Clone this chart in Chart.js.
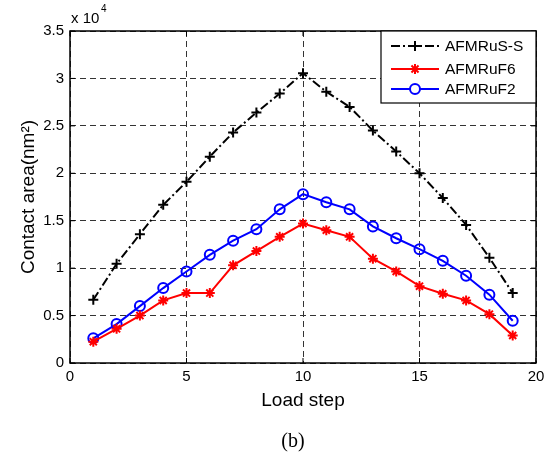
<!DOCTYPE html>
<html lang="en">
<head>
  <meta charset="UTF-8">
  <title>Contact area vs load step</title>
  <script src="https://cdn.jsdelivr.net/npm/chart.js"></script>
  <style>
    html, body { margin: 0; padding: 0; background: #fff; }
    #wrap { width: 551px; height: 456px; }
  </style>
</head>
<body>
  <div id="wrap"><canvas id="myChart" width="551" height="456"></canvas></div>
  <script>
// data (contact area in nm^2)
const loadSteps = [1, 2, 3, 4, 5, 6, 7, 8, 9, 10, 11, 12, 13, 14, 15, 16, 17, 18, 19];
const afmRuSS = [6660, 10450, 13580, 16670, 19100, 21750, 24300, 26400, 28400, 30550, 28600, 27000, 24500, 22300, 20000, 17400, 14560, 11100, 7370];
const afmRuF6 = [2250, 3600, 5000, 6600, 7370, 7370, 10300, 11800, 13300, 14700, 14000, 13300, 11000, 9650, 8100, 7300, 6600, 5150, 2900];
const afmRuF2 = [2600, 4100, 6000, 7900, 9650, 11400, 12900, 14100, 16200, 17800, 16950, 16200, 14400, 13150, 12000, 10770, 9200, 7200, 4450];
const seriesNames = ['AFMRuS-S', 'AFMRuF6', 'AFMRuF2'];
const xTicks = [0, 5, 10, 15, 20];

const FONT = '"Liberation Sans", Arial, Helvetica, sans-serif';

function pairs(ys) {
  return loadSteps.map((x, i) => ({ x: x, y: ys[i] }));
}

// box, exponent label, caption and an in-axes legend like matlab
const matlabBits = {
  id: 'matlabBits',
  afterDraw(chart) {
    const ctx = chart.ctx;
    const a = chart.chartArea;
    ctx.save();
    ctx.strokeStyle = '#000';
    ctx.lineWidth = 1.5;
    ctx.setLineDash([]);
    ctx.strokeRect(a.left, a.top, a.right - a.left, a.bottom - a.top);

    // small inward ticks
    ctx.lineWidth = 1;
    const xs = chart.scales.x, ys = chart.scales.y;
    xs.ticks.forEach(t => {
      const px = xs.getPixelForValue(t.value);
      ctx.beginPath();
      ctx.moveTo(px, a.bottom); ctx.lineTo(px, a.bottom - 5);
      ctx.moveTo(px, a.top); ctx.lineTo(px, a.top + 5);
      ctx.stroke();
    });
    ys.ticks.forEach(t => {
      const py = ys.getPixelForValue(t.value);
      ctx.beginPath();
      ctx.moveTo(a.left, py); ctx.lineTo(a.left + 5, py);
      ctx.moveTo(a.right, py); ctx.lineTo(a.right - 5, py);
      ctx.stroke();
    });

    // x 10^4
    ctx.fillStyle = '#000';
    ctx.font = '15px ' + FONT;
    ctx.textBaseline = 'alphabetic';
    ctx.textAlign = 'left';
    ctx.fillText('x 10', a.left + 1, a.top - 8);
    ctx.font = '10px ' + FONT;
    ctx.fillText('4', a.left + 31, a.top - 19);

    // caption
    ctx.font = '20px "Liberation Serif", "Times New Roman", serif';
    ctx.textAlign = 'center';
    ctx.fillText('(b)', 293, 447);

    // legend box
    const bw = 155, bh = 72;
    const bx = a.right - bw, by = a.top;
    ctx.fillStyle = '#fff';
    ctx.fillRect(bx, by, bw, bh);
    ctx.lineWidth = 1.2;
    ctx.strokeStyle = '#000';
    ctx.strokeRect(bx, by, bw, bh);
    const rows = [15, 38, 58];
    chart.data.datasets.forEach((ds, i) => {
      const yy = by + rows[i];
      ctx.strokeStyle = ds.borderColor;
      ctx.lineWidth = ds.borderWidth;
      ctx.setLineDash(ds.borderDash || []);
      ctx.beginPath();
      ctx.moveTo(bx + 10, yy); ctx.lineTo(bx + 58, yy);
      ctx.stroke();
      ctx.setLineDash([]);
      ctx.fillStyle = ds.pointStyle === 'circle' ? '#fff' : ds.borderColor;
      ctx.lineWidth = ds.pointBorderWidth;
      Chart.helpers.drawPoint(ctx, {
        pointStyle: ds.pointStyle,
        radius: ds.pointRadius,
        borderWidth: ds.pointBorderWidth
      }, bx + 34, yy);
      ctx.fillStyle = '#000';
      ctx.font = '15.5px ' + FONT;
      ctx.textAlign = 'left';
      ctx.textBaseline = 'middle';
      ctx.fillText(ds.label, bx + 64, yy + 1);
    });
    ctx.restore();
  }
};

const ctx = document.getElementById('myChart').getContext('2d');
new Chart(ctx, {
  type: 'line',
  data: {
    datasets: [
      {
        label: seriesNames[0],
        data: pairs(afmRuSS),
        borderColor: '#000',
        backgroundColor: '#000',
        borderWidth: 2,
        borderDash: [9, 3, 2, 3],
        pointStyle: 'cross',
        pointRadius: 5,
        pointBorderWidth: 2,
        pointBorderColor: '#000'
      },
      {
        label: seriesNames[1],
        data: pairs(afmRuF6),
        borderColor: '#ff0000',
        backgroundColor: '#ff0000',
        borderWidth: 2,
        pointStyle: 'star',
        pointRadius: 5,
        pointBorderWidth: 2,
        pointBorderColor: '#ff0000'
      },
      {
        label: seriesNames[2],
        data: pairs(afmRuF2),
        borderColor: '#0000ff',
        backgroundColor: 'rgba(0,0,0,0)',
        borderWidth: 2,
        pointStyle: 'circle',
        pointRadius: 5,
        pointBorderWidth: 2,
        pointBorderColor: '#0000ff'
      }
    ]
  },
  options: {
    responsive: false,
    animation: false,
    layout: { padding: { top: 31, right: 15, bottom: 44, left: 0 } },
    plugins: {
      legend: { display: false },
      tooltip: { enabled: false }
    },
    scales: {
      x: {
        type: 'linear',
        min: 0,
        max: 20,
        afterBuildTicks: s => { s.ticks = xTicks.map(v => ({ value: v })); },
        grid: { color: '#333', lineWidth: 1, drawTicks: false },
        border: { display: false, dash: [6, 4] },
        ticks: { color: '#000', font: { family: FONT, size: 15 }, padding: 5, maxRotation: 0 },
        title: { display: true, text: 'Load step', color: '#000', font: { family: FONT, size: 19 }, padding: { top: 0, bottom: 0 } },
        afterFit: s => { s.height = 49; }
      },
      y: {
        min: 0,
        max: 35000,
        grid: { color: '#333', lineWidth: 1, drawTicks: false },
        border: { display: false, dash: [6, 4] },
        ticks: {
          stepSize: 5000,
          color: '#000',
          font: { family: FONT, size: 15 },
          padding: 6,
          callback: v => String(Math.round(v / 1000) / 10)
        },
        title: { display: true, text: 'Contact area(nm\u00b2)', color: '#000', font: { family: FONT, size: 19 }, padding: { top: 17, bottom: 0 } },
        afterFit: s => { s.width = 70; }
      }
    }
  },
  plugins: [matlabBits]
});
  </script>
</body>
</html>
